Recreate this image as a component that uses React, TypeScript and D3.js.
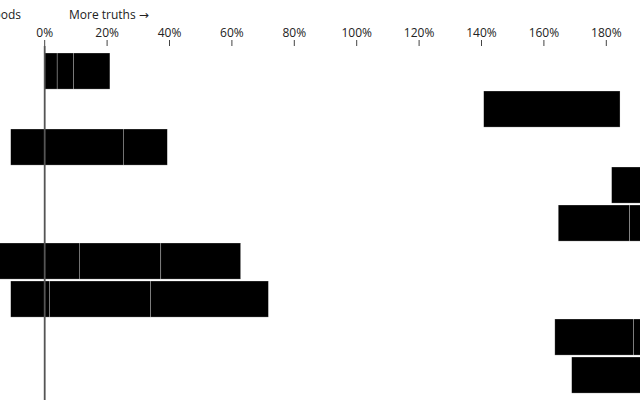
import React from "react";
import * as d3 from "d3";

const rows = ["r1", "r2", "r3", "r4", "r5", "r6", "r7", "r8", "r9"];
const rowStarts = [0, 1.407, -0.109, 1.817, 1.646, -0.25, -0.109, 1.635, 1.689];
const rowSegments = [
  [0.04, 0.052, 0.117],
  [0.437],
  [0.109, 0.252, 0.141],
  [0.3],
  [0.229, 0.2],
  [0.25, 0.111, 0.261, 0.256],
  [0.124, 0.324, 0.378],
  [0.252, 0.2],
  [0.3],
];
const tickValues = [0, 0.2, 0.4, 0.6, 0.8, 1.0, 1.2, 1.4, 1.6, 1.8];
const leftLabel = "More falsehoods";
const rightLabel = "More truths";

const W = 640;
const H = 400;
const FONT = "'Open Sans', 'Noto Sans', sans-serif";
const ARROW_FONT = "'DejaVu Sans', sans-serif";

export default function App() {
  const x = d3.scaleLinear().domain([0, 1.8]).range([44.7, 606.3]);
  const y = d3.scaleBand<string>().domain(rows).range([51.1, 395]).padding(0.05);
  const fmt = d3.format(".0%");
  const axisY = 46;

  const rects: { key: string; x0: number; x1: number; row: string }[] = [];
  rows.forEach((r, i) => {
    let acc = rowStarts[i];
    rowSegments[i].forEach((w, j) => {
      rects.push({ key: `${r}-${j}`, x0: acc, x1: acc + w, row: r });
      acc += w;
    });
  });

  return (
    <svg
      width={W}
      height={H}
      viewBox={`0 0 ${W} ${H}`}
      style={{ position: "fixed", left: 0, top: 0, background: "#fff", fontFamily: FONT }}
    >
      <g>
        {rects.map((d) => (
          <rect
            key={d.key}
            x={x(d.x0)}
            width={x(d.x1) - x(d.x0)}
            y={y(d.row)}
            height={y.bandwidth()}
            fill="#000"
            stroke="#fff"
            strokeOpacity={0.45}
            strokeWidth={0.6}
          />
        ))}
      </g>
      <line x1={x(0)} x2={x(0)} y1={axisY} y2={H} stroke="#555" strokeWidth={1.8} />
      <g transform={`translate(0,${axisY})`} fontSize={12} fill="#222">
        {tickValues.map((t) => (
          <g key={t} transform={`translate(${x(t)},0)`}>
            <line y1={0} y2={-6} stroke="#444" strokeWidth={1} />
            <text y={-9} textAnchor="middle">
              {fmt(t)}
            </text>
          </g>
        ))}
      </g>
      <text x={21} y={19} textAnchor="end" fontSize={12} fill="#222">
        <tspan fontFamily={ARROW_FONT}>←</tspan> {leftLabel}
      </text>
      <text x={69} y={19} textAnchor="start" fontSize={12} fill="#222">
        {rightLabel} <tspan fontFamily={ARROW_FONT}>→</tspan>
      </text>
    </svg>
  );
}
